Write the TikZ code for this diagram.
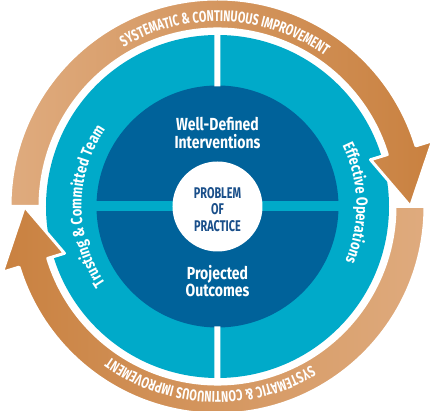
\documentclass[tikz,border=0pt]{standalone}
\usepackage{fontspec}
\setmainfont{Fira Sans}
\newfontfamily\condfont[FakeStretch=0.8]{Fira Sans}
\newfontfamily\narrowfont[FakeStretch=0.7]{Fira Sans}
\usetikzlibrary{decorations.text}
\definecolor{ringblue}{HTML}{00AAC9}
\definecolor{coreblue}{HTML}{00629A}
\definecolor{labelblue}{HTML}{1A4F8A}
\definecolor{loopdark}{HTML}{C98140}
\definecolor{looplight}{HTML}{DFAB7E}
\tikzset{
	loopband/.style={draw=white,line width=3pt,line join=round},
	looptext/.style={decorate,decoration={text along path,text align=center,
		text={|\narrowfont\bfseries\fontsize{15.5}{18}\selectfont\color{white}|#1}}},
	sidetext/.style={decorate,decoration={text along path,text align=center,
		text={|\condfont\bfseries\fontsize{16}{20}\selectfont\color{white}|#1}}},
	coretext/.style={text=white,align=center,font=\condfont\bfseries\fontsize{17.5}{17.7}\selectfont},
	hubtext/.style={text=labelblue,align=center,font=\narrowfont\bfseries\fontsize{15.5}{16.5}\selectfont}
}
\begin{document}
\begin{tikzpicture}[x=1pt,y=1pt]
	\useasboundingbox (-217.5,-204.5) rectangle (216.5,206.5);
	\fill[ringblue] (0,0) circle[radius=171.5];
	\fill[coreblue] (0,0) circle[radius=121];
	\fill[ringblue] (-122,-5) rectangle (122,5);
	\fill[white] (-3,120) rectangle (3,172) (-3,-120) rectangle (3,-172);
	\fill[white] (0,0) circle[radius=45];
	\foreach \a/\lc/\rc in {0/looplight/loopdark,180/loopdark/looplight}
		\path[loopband,left color=\lc,right color=\rc]
		({\a+180}:207.5) arc[start angle=\a+180,end angle=\a+17,radius=207.5]
		-- ({\a+17}:225) -- (\a:193) -- ({\a+17}:160) -- ({\a+17}:177.5)
		arc[start angle=\a+17,end angle=\a+180,radius=177.5] -- cycle;
	\path[looptext={SYSTEMATIC {\&} CONTINUOUS IMPROVEMENT}]
		(150:185) arc[start angle=150,end angle=25,radius=185];
	\path[looptext={SYSTEMATIC {\&} CONTINUOUS IMPROVEMENT}]
		(-30:185) arc[start angle=-30,end angle=-155,radius=185];
	\path[sidetext={Effective Operations}]
		(50:139) arc[start angle=50,end angle=-47,radius=139];
	\path[sidetext={Trusting {\&} Committed Team}]
		(230:136) arc[start angle=230,end angle=130,radius=136];
	\node[coretext] (wdi) at (0,73.5) {Well-Defined\\Interventions};
	\node[coretext] (po) at (0,-74.5) {Projected\\Outcomes};
	\node[hubtext] (pop) at (0,-3) {PROBLEM\\OF\\PRACTICE};
\end{tikzpicture}
\end{document}
